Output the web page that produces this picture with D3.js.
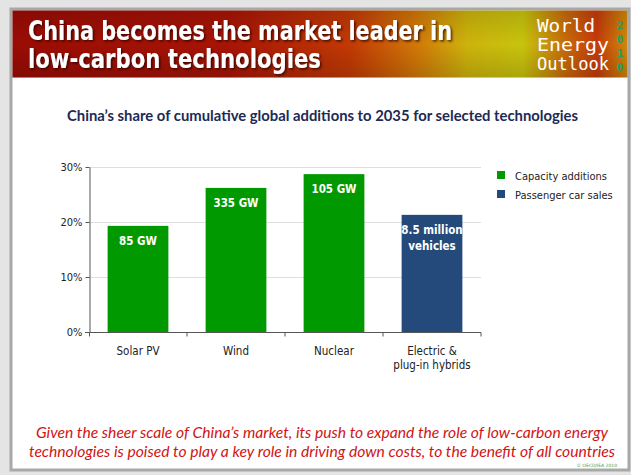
<!DOCTYPE html>
<html>
<head>
<meta charset="utf-8">
<script src="https://cdn.jsdelivr.net/npm/d3@7"></script>
<style>
  html, body { margin: 0; padding: 0; background: #e4e4e4; }
  svg { display: block; }
</style>
</head>
<body>
<svg id="slide" width="631" height="475"></svg>
<script>
// Chart data
const categories = ["Solar PV", "Wind", "Nuclear", "Electric & plug-in hybrids"];
const categoryLines = [["Solar PV"], ["Wind"], ["Nuclear"], ["Electric &", "plug-in hybrids"]];
const shares = [19.3, 26.2, 28.7, 21.3];           // % of cumulative global additions to 2035
const barLabels = [["85 GW"], ["335 GW"], ["105 GW"], ["8.5 million", "vehicles"]];
const barSeries = ["Capacity additions", "Capacity additions", "Capacity additions", "Passenger car sales"];
const seriesNames = ["Capacity additions", "Passenger car sales"];
const seriesColors = ["#009a00", "#234a7a"];
const yTicks = [0, 10, 20, 30];

const titleLines = ["China becomes the market leader in", "low-carbon technologies"];
const subtitle = "China\u2019s share of cumulative global additions to 2035 for selected technologies";
const footerLines = [
  "Given the sheer scale of China\u2019s market, its push to expand the role of low-carbon energy",
  "technologies is poised to play a key role in driving down costs, to the benefit of all countries"
];

const svg = d3.select("#slide");
const defs = svg.append("defs");

// Slide frame
svg.append("rect").attr("x", 0).attr("y", 0).attr("width", 631).attr("height", 475).attr("fill", "#e4e4e4");
svg.append("rect").attr("x", 11).attr("y", 9).attr("width", 618).attr("height", 461)
  .attr("fill", "#ffffff").attr("stroke", "#a8a8a8").attr("stroke-width", 3);

// Banner
const grad = defs.append("linearGradient").attr("id", "banner").attr("x1", "0").attr("x2", "1").attr("y1", "0").attr("y2", "0");
[["0", "#9a0c04"], ["0.35", "#a81406"], ["0.55", "#c23a04"], ["0.66", "#d27a08"], ["0.74", "#cdb40c"],
 ["0.83", "#c8c40c"], ["0.9", "#c86a0a"], ["0.95", "#c63a0a"], ["1", "#d08a0a"]]
  .forEach(([o, c]) => grad.append("stop").attr("offset", o).attr("stop-color", c));
const vshade = defs.append("linearGradient").attr("id", "bannerShade").attr("x1", "0").attr("x2", "0").attr("y1", "0").attr("y2", "1");
vshade.append("stop").attr("offset", "0").attr("stop-color", "#000").attr("stop-opacity", 0.12);
vshade.append("stop").attr("offset", "0.5").attr("stop-color", "#000").attr("stop-opacity", 0);
vshade.append("stop").attr("offset", "1").attr("stop-color", "#000").attr("stop-opacity", 0.15);

svg.append("rect").attr("x", 12.5).attr("y", 10.5).attr("width", 615).attr("height", 67).attr("fill", "url(#banner)");
svg.append("rect").attr("x", 12.5).attr("y", 10.5).attr("width", 615).attr("height", 67).attr("fill", "url(#bannerShade)");

const shadow = defs.append("filter").attr("id", "txtShadow").attr("x", "-5%").attr("y", "-20%").attr("width", "110%").attr("height", "140%");
shadow.append("feDropShadow").attr("dx", 1.5).attr("dy", 1.5).attr("stdDeviation", 1.2)
  .attr("flood-color", "#2a0000").attr("flood-opacity", 0.8);

const titleWidths = [424, 293];
svg.append("g").selectAll("text").data(titleLines).join("text")
  .attr("x", 28).attr("y", (d, i) => 40 + i * 28)
  .attr("textLength", (d, i) => titleWidths[i]).attr("lengthAdjust", "spacingAndGlyphs")
  .attr("font-family", "'DejaVu Sans Condensed', 'DejaVu Sans', sans-serif")
  .attr("font-weight", "bold").attr("font-size", 26).attr("fill", "#ffffff")
  .attr("filter", "url(#txtShadow)")
  .text(d => d);

// Report logo
const logoWords = ["World", "Energy", "Outlook"];
const logoWidths = [58, 72, 72];
svg.append("g").selectAll("text").data(logoWords).join("text")
  .attr("x", 537).attr("y", (d, i) => 32 + i * 19)
  .attr("textLength", (d, i) => logoWidths[i]).attr("lengthAdjust", "spacingAndGlyphs")
  .attr("font-family", "'DejaVu Sans Mono', monospace").attr("font-size", 18)
  .attr("fill", "#ffffff").text(d => d);
svg.append("g").selectAll("text").data(["2", "0", "1", "0"]).join("text")
  .attr("x", 620).attr("y", (d, i) => 29 + i * 14)
  .attr("text-anchor", "middle")
  .attr("font-family", "'DejaVu Sans Mono', monospace").attr("font-weight", "bold").attr("font-size", 11)
  .attr("fill", "#22a060").text(d => d);

// Chart subtitle
svg.append("text")
  .attr("x", 67).attr("y", 121)
  .attr("textLength", 511).attr("lengthAdjust", "spacingAndGlyphs")
  .attr("font-family", "Lato, 'Open Sans', sans-serif").attr("font-weight", "bold").attr("font-size", 15)
  .attr("fill", "#1c2a55").text(subtitle);

// Scales
const x = d3.scaleBand().domain(categories).range([89, 481]).paddingInner(0.38).paddingOuter(0.19);
const y = d3.scaleLinear().domain([0, 30]).range([332, 167]);
const color = d3.scaleOrdinal().domain(seriesNames).range(seriesColors);

const chartFont = "'DejaVu Sans Condensed', 'DejaVu Sans', sans-serif";

// Gridlines
svg.append("g").selectAll("line").data(yTicks.filter(t => t > 0)).join("line")
  .attr("x1", 89).attr("x2", 481).attr("y1", d => y(d) + 0.5).attr("y2", d => y(d) + 0.5)
  .attr("stroke", "#dedede").attr("stroke-width", 1);

// Bars
const bars = svg.append("g");
bars.selectAll("rect").data(categories).join("rect")
  .attr("x", d => x(d)).attr("width", x.bandwidth())
  .attr("y", (d, i) => y(shares[i])).attr("height", (d, i) => y(0) - y(shares[i]))
  .attr("fill", (d, i) => color(barSeries[i]));

// Value labels inside bars
categories.forEach((c, i) => {
  barLabels[i].forEach((line, j) => {
    svg.append("text")
      .attr("x", x(c) + x.bandwidth() / 2).attr("y", y(shares[i]) + 19 + j * 16)
      .attr("text-anchor", "middle")
      .attr("font-family", chartFont).attr("font-weight", "bold").attr("font-size", 11.5)
      .attr("fill", "#ffffff").text(line);
  });
});

// Y axis
const yAxis = svg.append("g").attr("transform", "translate(89.5,0)")
  .call(d3.axisLeft(y).tickValues(yTicks).tickFormat(d => d + "%").tickSize(4).tickSizeOuter(0));
yAxis.select(".domain").attr("stroke", "#555");
yAxis.selectAll(".tick line").attr("stroke", "#555");
yAxis.selectAll(".tick text").attr("font-family", chartFont).attr("font-size", 11).attr("fill", "#222").attr("x", -7);

// X axis with tick marks at category boundaries
const xAxis = svg.append("g").attr("transform", `translate(0,${y(0) + 0.5})`);
xAxis.append("line").attr("x1", 85).attr("x2", 481).attr("stroke", "#555");
const step = x.step();
const bounds = categories.map(c => x(c) - x.paddingInner() * step / 2).concat([481]);
bounds[0] = 89.5;
xAxis.selectAll("line.tk").data(bounds).join("line").attr("class", "tk")
  .attr("x1", d => d).attr("x2", d => d).attr("y1", 0).attr("y2", 4).attr("stroke", "#555");
categories.forEach((c, i) => {
  categoryLines[i].forEach((line, j) => {
    xAxis.append("text")
      .attr("x", x(c) + x.bandwidth() / 2).attr("y", 22 + j * 14)
      .attr("text-anchor", "middle")
      .attr("font-family", chartFont).attr("font-size", 11.5).attr("fill", "#222").text(line);
  });
});

// Legend
const legend = svg.append("g").selectAll("g").data(seriesNames).join("g")
  .attr("transform", (d, i) => `translate(497,${170 + i * 19})`);
legend.append("rect").attr("width", 8).attr("height", 8).attr("y", 1).attr("fill", d => color(d));
legend.append("text").attr("x", 18).attr("y", 9.5)
  .attr("font-family", chartFont).attr("font-size", 11).attr("fill", "#222").text(d => d);

// Footer statement
const footerWidths = [572, 586];
svg.append("g").selectAll("text").data(footerLines).join("text")
  .attr("x", 322).attr("y", (d, i) => 438 + i * 19)
  .attr("text-anchor", "middle")
  .attr("textLength", (d, i) => footerWidths[i]).attr("lengthAdjust", "spacingAndGlyphs")
  .attr("font-family", "Lato, 'Open Sans', sans-serif").attr("font-style", "italic").attr("font-size", 15)
  .attr("fill", "#d01414").text(d => d);

svg.append("text").attr("x", 617).attr("y", 467).attr("text-anchor", "end")
  .attr("font-family", "'DejaVu Sans', sans-serif").attr("font-size", 4.5).attr("fill", "#2aa060")
  .text("\u00a9 OECD/IEA 2010");
</script>
</body>
</html>
